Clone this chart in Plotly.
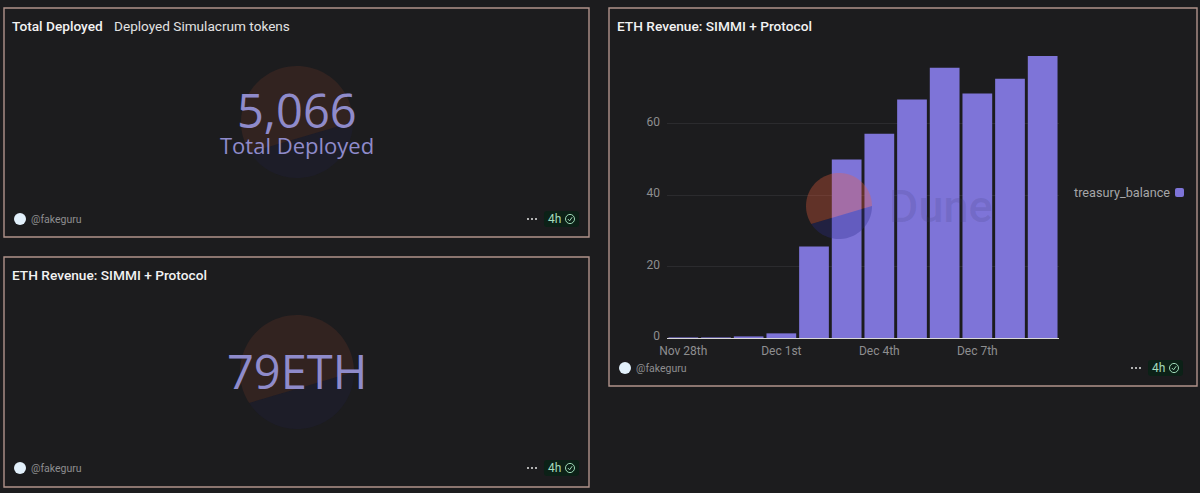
import numpy as np
import plotly.graph_objects as go

W, H = 1200, 493
BG = "#1c1c1e"
BORDER = "#b0928b"
PURPLE = "#7e74d8"
BIG = "#8f8bcb"
GREY = "#8e8e90"
FONT = "Roboto"
DISPLAY_FONT = "Open Sans"

# chart data
days = ["2023-11-28", "2023-11-29", "2023-11-30", "2023-12-01", "2023-12-02", "2023-12-03",
        "2023-12-04", "2023-12-05", "2023-12-06", "2023-12-07", "2023-12-08", "2023-12-09"]
treasury_balance = [0.05, 0.05, 0.2, 1.3, 25.6, 50, 57.2, 66.8, 75.7, 68.5, 72.6, 79]
series_name = "treasury_balance"
tick_days = ["2023-11-28", "2023-12-01", "2023-12-04", "2023-12-07"]
tick_labels = ["Nov 28th", "Dec 1st", "Dec 4th", "Dec 7th"]
y_ticks = [0, 20, 40, 60]

# counter panels
total_deployed = 5066
eth_revenue = 79
owner = "@fakeguru"
age = "4h"

px = lambda x: x / W
py = lambda y: 1 - y / H


def rect(x0, y0, x1, y1, **kw):
    return dict(type="rect", xref="paper", yref="paper",
                x0=px(x0), x1=px(x1), y0=py(y0), y1=py(y1), **kw)


def label(x, y, text, size, color, anchor="left", yanchor="middle", weight=None, family=FONT):
    font = dict(family=family, size=size, color=color)
    if weight:
        font["weight"] = weight
    return dict(xref="paper", yref="paper", x=px(x), y=py(y), text=text, showarrow=False,
                xanchor=anchor, yanchor=yanchor, font=font, borderpad=0)


def path(points, close=True):
    d = "M " + " L ".join(f"{px(x):.5f},{py(y):.5f}" for x, y in points)
    return d + (" Z" if close else "")


def rounded(x0, y0, x1, y1, r, color):
    """Filled rectangle with rounded corners, given in pixels."""
    p = lambda x, y: f"{px(x):.5f},{py(y):.5f}"
    d = (f"M {p(x0 + r, y0)} L {p(x1 - r, y0)} Q {p(x1, y0)} {p(x1, y0 + r)} "
         f"L {p(x1, y1 - r)} Q {p(x1, y1)} {p(x1 - r, y1)} "
         f"L {p(x0 + r, y1)} Q {p(x0, y1)} {p(x0, y1 - r)} "
         f"L {p(x0, y0 + r)} Q {p(x0, y0)} {p(x0 + r, y0)} Z")
    return dict(type="path", xref="paper", yref="paper", path=d, fillcolor=color, line_width=0)


def logo(cx, cy, r, alpha):
    """Two-tone disc watermark, split along a slanted chord."""
    a0, a1 = np.radians(0), np.radians(213)
    top = np.linspace(a0, a1, 60)
    bottom = np.linspace(a1, a0 + 2 * np.pi, 40)
    ring = lambda t: [(cx + r * np.cos(v), cy - r * np.sin(v)) for v in t]
    out = []
    for arc, col in ((ring(top), "#f4603e"), (ring(bottom), "#2a2a8c")):
        out.append(dict(type="path", xref="paper", yref="paper", path=path(arc),
                        fillcolor=col, opacity=alpha, line_width=0, layer="above"))
    return out


def footer(left, right, y):
    items = [dict(type="circle", xref="paper", yref="paper", x0=px(left + 10), x1=px(left + 22),
                  y0=py(y - 6), y1=py(y + 6), fillcolor="#e2f0fb", line_width=0),
             rounded(right - 45, y - 8, right - 10, y + 8, 3, "#0c2117"),
             dict(type="circle", xref="paper", yref="paper", x0=px(right - 23.5), x1=px(right - 14.5),
                  y0=py(y - 4.6), y1=py(y + 4.6), line=dict(color="#9ed8b6", width=1)),
             dict(type="path", xref="paper", yref="paper",
                  path=path([(right - 21.2, y), (right - 19.4, y + 1.8), (right - 16.8, y - 1.8)], close=False),
                  line=dict(color="#9ed8b6", width=1))]
    for k in (-4, 0, 4):
        items.append(dict(type="circle", xref="paper", yref="paper",
                          x0=px(right - 57 + k - 1), x1=px(right - 57 + k + 1),
                          y0=py(y - 1), y1=py(y + 1), fillcolor="#e4e4e4", line_width=0))
    notes = [label(left + 26, y, owner, 10.5, GREY),
             label(right - 42.5, y, age, 12, "#a5dcbc")]
    return items, notes


fig = go.Figure(go.Bar(x=days, y=treasury_balance, name=series_name, marker_color=PURPLE,
                       marker_line_width=0, showlegend=False))

shapes = [rect(4, 8, 589, 237, line=dict(color=BORDER, width=1.4)),
          rect(4, 257, 589, 487, line=dict(color=BORDER, width=1.4)),
          rect(609, 8, 1197, 386, line=dict(color=BORDER, width=1.4))]
shapes += logo(297, 122, 56, 0.10) + logo(297, 372, 57, 0.10) + logo(839, 206, 33, 0.32)
# legend swatch
shapes.append(rounded(1175, 188, 1184, 197, 2, PURPLE))

notes = [
    label(11, 26, "Total Deployed", 13.7, "#f2f2f2", weight=500),
    label(113, 26, "Deployed Simulacrum tokens", 13.6, "#e2e2e2"),
    label(11, 275, "ETH Revenue: SIMMI + Protocol", 13.7, "#f2f2f2", weight=500),
    label(616, 26, "ETH Revenue: SIMMI + Protocol", 13.7, "#f2f2f2", weight=500),
    label(297, 109.5, f"{total_deployed:,}", 47, BIG, "center", family=DISPLAY_FONT),
    label(297, 145, "Total Deployed", 22, BIG, "center", family=DISPLAY_FONT),
    label(297, 370.5, f"{eth_revenue}ETH", 47, BIG, "center", family=DISPLAY_FONT),
    label(1171, 192, series_name, 12.7, "#a6a6a8", "right"),
    label(888, 207, "Dune", 45, "rgba(60,56,110,0.16)", weight=500),
]

for left, right, y in ((4, 589, 219), (4, 589, 468), (609, 1193, 368)):
    s, n = footer(left, right, y)
    shapes += s
    notes += n

fig.update_layout(
    width=W, height=H, margin=dict(l=0, r=0, t=0, b=0), autosize=False,
    paper_bgcolor=BG, plot_bgcolor=BG, bargap=0.09, shapes=shapes, annotations=notes,
    xaxis=dict(domain=[px(667), px(1059)], type="date", automargin=False,
               range=["2023-11-27 12:00", "2023-12-09 12:00"],
               tickmode="array", tickvals=tick_days, ticktext=tick_labels,
               showgrid=False, showline=True, linecolor="#d8d8d8", linewidth=1, ticks="",
               ticklabelstandoff=2,
               zeroline=False, tickfont=dict(family=FONT, size=12, color=GREY)),
    yaxis=dict(domain=[py(338), py(52.4)], range=[0, 80], tickmode="array", tickvals=y_ticks,
               automargin=False, ticklabelshift=-2,
               gridcolor="#2b2b2e", gridwidth=1, zeroline=False, ticks="", showline=False,
               ticklabelstandoff=6, tickfont=dict(family=FONT, size=12, color=GREY)),
)

fig.write_html("out.html")
